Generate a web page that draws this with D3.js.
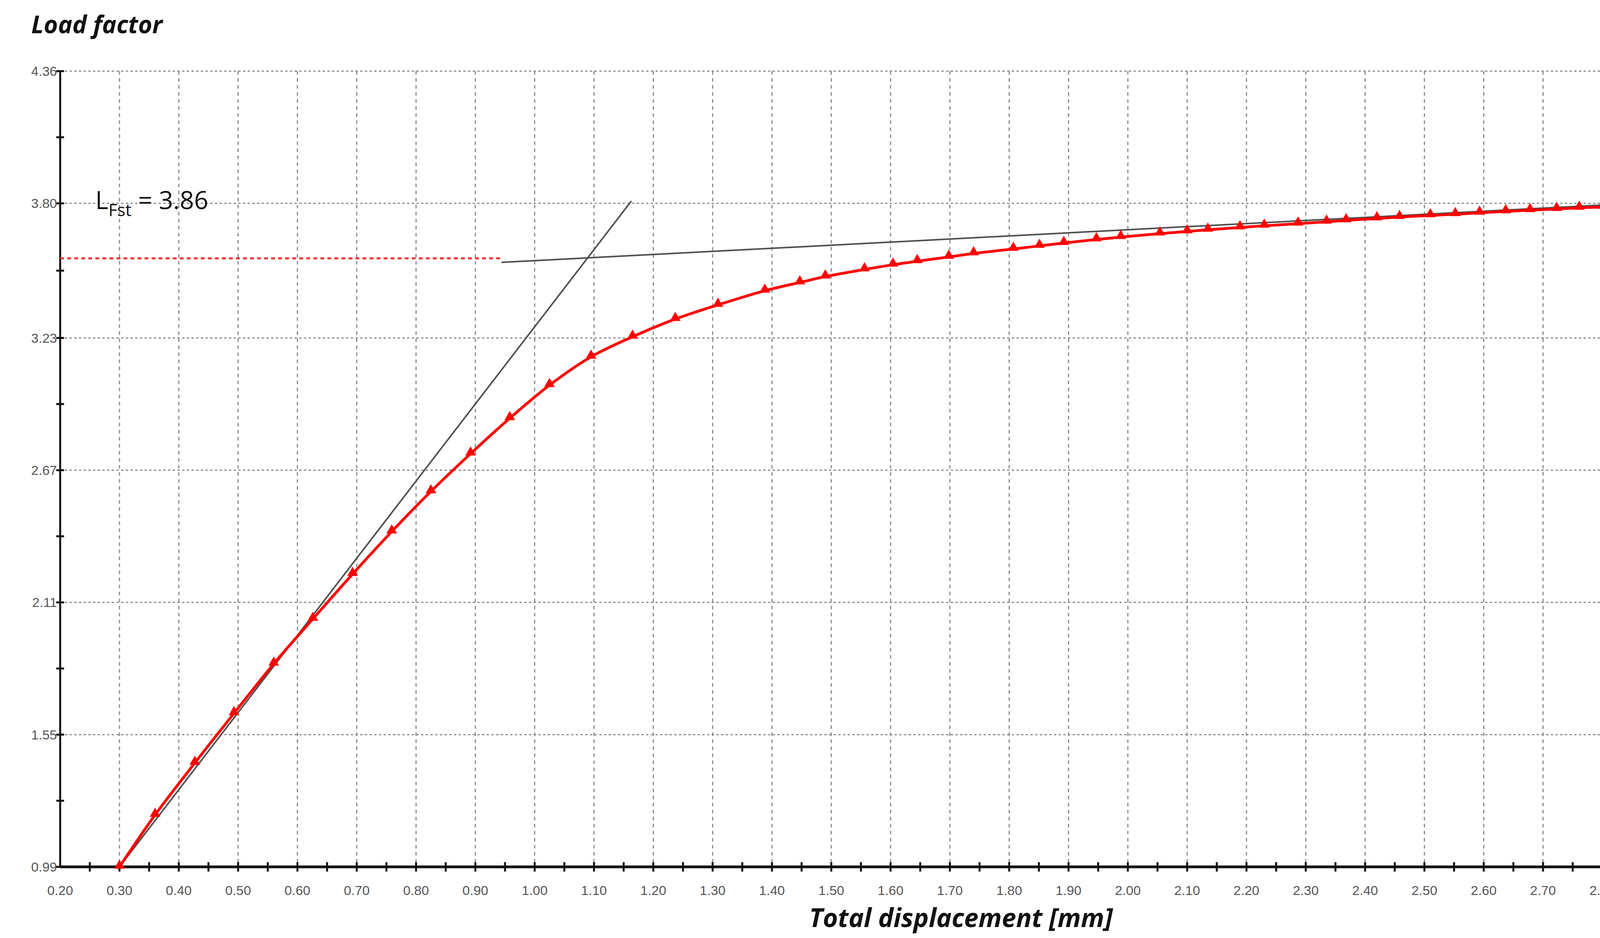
<!DOCTYPE html>
<html><head><meta charset="utf-8">
<script src="https://cdn.jsdelivr.net/npm/d3@7"></script>
<style>html,body{margin:0;padding:0;background:#fff;overflow:hidden}svg{display:block}</style></head>
<body><svg id="c" width="4368" height="2400"></svg>
<script>
const dispX = [0.30,0.36,0.427,0.493,0.56,0.626,0.693,0.759,0.825,0.892,0.958,1.025,1.095,1.165,1.237,1.309,1.388,1.447,1.49,1.556,1.604,1.645,1.698,1.74,1.807,1.851,1.892,1.947,1.988,2.054,2.10,2.135,2.189,2.23,2.287,2.335,2.368,2.42,2.458,2.51,2.552,2.593,2.637,2.678,2.723,2.761,2.80,2.846,2.886,2.93];
const loadY = [0.99,1.21,1.43,1.64,1.85,2.04,2.23,2.41,2.58,2.74,2.89,3.03,3.15,3.235,3.31,3.37,3.43,3.465,3.49,3.52,3.54,3.555,3.573,3.588,3.607,3.62,3.632,3.647,3.657,3.672,3.681,3.688,3.698,3.705,3.714,3.722,3.728,3.736,3.742,3.749,3.754,3.76,3.766,3.771,3.776,3.781,3.785,3.79,3.794,3.80];
const xTicks = [0.2,0.3,0.4,0.5,0.6,0.7,0.8,0.9,1.0,1.1,1.2,1.3,1.4,1.5,1.6,1.7,1.8,1.9,2.0,2.1,2.2,2.3,2.4,2.5,2.6,2.7,2.8,2.9];
const yTicks = [0.99,1.55,2.11,2.67,3.23,3.80,4.36];
const tangent1 = [[0.30,0.99],[1.163,3.81]];
const tangent2 = [[0.944,3.55],[2.93,3.81]];
const refLevel = 3.567;
const label = "= 3.86";

const svg = d3.select("#c");
const x = d3.scaleLinear().domain([0.2,2.96]).range([154,4345]);
const y = d3.scaleLinear().domain([0.99,4.36]).range([2218,182]);
const g = svg.append("g");
g.selectAll(".vg").data(xTicks.slice(1)).join("line")
 .attr("x1",d=>x(d)).attr("x2",d=>x(d)).attr("y1",y(4.36)).attr("y2",y(0.99))
 .attr("stroke","#8a8a8a").attr("stroke-width",3).attr("stroke-dasharray","9,9");
g.selectAll(".hg").data(yTicks.slice(1)).join("line")
 .attr("x1",x(0.2)).attr("x2",4360).attr("y1",d=>y(d)).attr("y2",d=>y(d))
 .attr("stroke","#8a8a8a").attr("stroke-width",3).attr("stroke-dasharray","6,6");
const xMinor = d3.range(0.25,2.96,0.05);
const yMinor = yTicks.slice(0,-1).map((d,i)=>(d+yTicks[i+1])/2);
g.append("line").attr("x1",x(0.2)).attr("x2",x(2.93)).attr("y1",y(0.99)).attr("y2",y(0.99)).attr("stroke","#111").attr("stroke-width",7);
g.append("line").attr("x1",x(0.2)).attr("x2",x(0.2)).attr("y1",y(0.99)).attr("y2",y(4.36)).attr("stroke","#111").attr("stroke-width",5);
g.selectAll(".xt").data(xMinor.filter(d=>d<2.94)).join("line")
 .attr("x1",d=>x(d)).attr("x2",d=>x(d)).attr("y1",y(0.99)-12).attr("y2",y(0.99)+12).attr("stroke","#111").attr("stroke-width",5);
g.selectAll(".yt").data(yTicks.concat(yMinor)).join("line")
 .attr("y1",d=>y(d)).attr("y2",d=>y(d)).attr("x1",x(0.2)-10).attr("x2",x(0.2)+10).attr("stroke","#111").attr("stroke-width",5);
g.selectAll(".xl").data(xTicks).join("text")
 .attr("x",d=>x(d)).attr("y",y(0.99)+72).attr("text-anchor","middle")
 .attr("font-family","Liberation Sans Narrow, Liberation Sans, sans-serif").attr("font-size",34).attr("fill","#555")
 .text(d=>d.toFixed(2));
g.selectAll(".yl").data(yTicks).join("text")
 .attr("x",x(0.2)-8).attr("y",d=>y(d)+12).attr("text-anchor","end")
 .attr("font-family","Liberation Sans Narrow, Liberation Sans, sans-serif").attr("font-size",34).attr("fill","#555")
 .text(d=>d.toFixed(2));
g.append("line").attr("x1",x(0.2)).attr("x2",x(0.944)).attr("y1",y(refLevel)).attr("y2",y(refLevel))
 .attr("stroke","#f03030").attr("stroke-width",5).attr("stroke-dasharray","10,8");
const ln = d3.line().x(d=>x(d[0])).y(d=>y(d[1]));
[tangent1,tangent2].forEach(t=>g.append("path").attr("d",ln(t)).attr("fill","none").attr("stroke","#505050").attr("stroke-width",4));
const pts = dispX.map((d,i)=>[d,loadY[i]]);
g.append("path").attr("d",d3.line().x(d=>x(d[0])).y(d=>y(d[1])).curve(d3.curveCatmullRom)(pts))
 .attr("fill","none").attr("stroke","#ff0000").attr("stroke-width",7);
g.selectAll(".pt").data(pts).join("path")
 .attr("d",d3.symbol().type(d3.symbolTriangle).size(320))
 .attr("transform",d=>`translate(${x(d[0])},${y(d[1])-3})`).attr("fill","#ff0000");
const t = svg.append("text").attr("x",244).attr("y",535).attr("font-family","Open Sans, sans-serif").attr("font-size",64).attr("fill","#111");
t.append("tspan").text("L");
t.append("tspan").attr("dy",18).attr("font-size",44).text("Fst");
t.append("tspan").attr("dy",-18).text(" "+label);
svg.append("text").attr("x",80).attr("y",85).attr("font-family","Open Sans, sans-serif").attr("font-weight","bold").attr("font-style","italic").attr("font-size",62).attr("fill","#111").text("Load factor");
svg.append("text").attr("x",2460).attr("y",2372).attr("text-anchor","middle").attr("font-family","Open Sans, sans-serif").attr("font-weight","bold").attr("font-style","italic").attr("font-size",66).attr("fill","#111").text("Total displacement [mm]");
</script></body></html>
